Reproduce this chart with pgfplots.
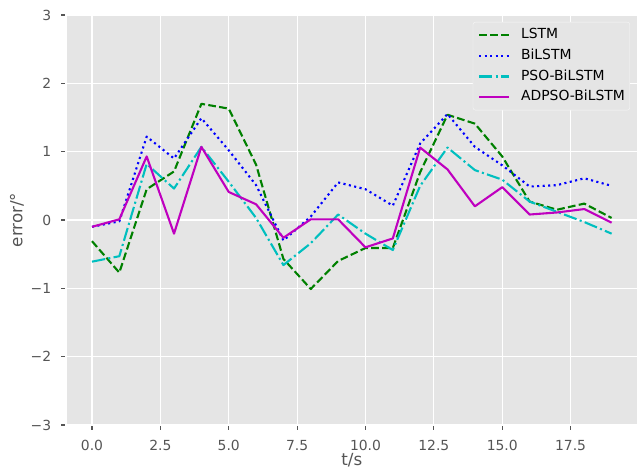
\documentclass[border=0pt]{standalone}
\usepackage{fontspec}
\setmainfont{DejaVu Sans}
\usepackage{pgfplots}
\pgfplotsset{compat=1.18}
\definecolor{bg}{HTML}{E5E5E5}
\definecolor{tickc}{HTML}{555555}
\definecolor{cLSTM}{rgb}{0,0.5,0}
\definecolor{cBi}{rgb}{0,0,1}
\definecolor{cPSO}{rgb}{0,0.75,0.75}
\definecolor{cAD}{rgb}{0.75,0,0.75}
\begin{document}
\begin{tikzpicture}
\begin{axis}[
  name=ax,
  scale only axis,
  width=571.6bp, height=410bp,
  xmin=-0.95, xmax=19.95, ymin=-3, ymax=3,
  axis background/.style={fill=bg},
  axis line style={draw=white, line width=1.1bp},
  grid=major,
  major grid style={white, line width=1.1bp},
  xtick={0,2.5,5,7.5,10,12.5,15,17.5},
  xticklabels={0.0,2.5,5.0,7.5,10.0,12.5,15.0,17.5},
  ytick={-3,-2,-1,0,1,2,3},
  yticklabels={−3,−2,−1,0,1,2,3},
  tick align=outside,
  xtick pos=left, ytick pos=left,
  major tick length=4.9bp,
  tick style={tickc, line width=1.1bp},
  ticklabel style={font=\fontsize{13.9bp}{16bp}\selectfont, text=tickc},
  xticklabel style={anchor=north, inner sep=0pt, yshift=-10.3bp},
  yticklabel style={anchor=east, inner sep=0pt, xshift=-9.8bp},
  xlabel={t/s}, ylabel={error/°},
  every axis x label/.style={at={(axis description cs:0.5,-0.0985)}, anchor=base, inner sep=0pt,
    font=\fontsize{16.7bp}{19bp}\selectfont, text=tickc},
  every axis y label/.style={at={(axis description cs:-0.0857,0.5)}, anchor=center, rotate=90, inner sep=0pt,
    font=\fontsize{16.7bp}{19bp}\selectfont, text=tickc},
  legend style={at={(axis description cs:0.9867,0.983)}, anchor=north east,
    fill=bg, draw=white!65!bg, rounded corners=2.5bp,
    font=\fontsize{13.9bp}{16bp}\selectfont,
    inner xsep=5bp, inner ysep=2.6bp, row sep=0pt, column sep=11bp,
    nodes={inner xsep=0pt, inner ysep=3.6bp, text height=10.5bp, text depth=3bp}},
  legend cell align=left,
  legend image code/.code={\draw[#1] (0bp,0bp) -- (30bp,0bp);},
  every axis plot/.append style={line width=2.1bp, line join=round},
]
\addplot[cLSTM, dash pattern=on 7.7bp off 3.3bp] coordinates {
(0,-0.31) (1,-0.77) (2,0.45) (3,0.71) (4,1.70) (5,1.63) (6,0.81) (7,-0.57) (8,-1.01) (9,-0.60)
(10,-0.41) (11,-0.41) (12,0.70) (13,1.54) (14,1.41) (15,0.93) (16,0.27) (17,0.15) (18,0.24) (19,0.03)};
\addlegendentry{LSTM}
\addplot[cBi, dash pattern=on 2.1bp off 3.4bp] coordinates {
(0,-0.10) (1,-0.02) (2,1.22) (3,0.90) (4,1.49) (5,1.02) (6,0.51) (7,-0.30) (8,0.05) (9,0.55)
(10,0.45) (11,0.21) (12,1.12) (13,1.55) (14,1.07) (15,0.80) (16,0.49) (17,0.51) (18,0.61) (19,0.50)};
\addlegendentry{BiLSTM}
\addplot[cPSO, dash pattern=on 13.3bp off 3.3bp on 2.1bp off 3.3bp] coordinates {
(0,-0.61) (1,-0.53) (2,0.82) (3,0.46) (4,1.07) (5,0.56) (6,0.03) (7,-0.66) (8,-0.34) (9,0.08)
(10,-0.20) (11,-0.44) (12,0.50) (13,1.06) (14,0.73) (15,0.59) (16,0.27) (17,0.12) (18,-0.03) (19,-0.20)};
\addlegendentry{PSO-BiLSTM}
\addplot[cAD] coordinates {
(0,-0.10) (1,0.01) (2,0.93) (3,-0.20) (4,1.07) (5,0.41) (6,0.23) (7,-0.26) (8,0.01) (9,0.01)
(10,-0.40) (11,-0.27) (12,1.06) (13,0.74) (14,0.20) (15,0.48) (16,0.08) (17,0.11) (18,0.16) (19,-0.04)};
\addlegendentry{ADPSO-BiLSTM}
\end{axis}
\pgfresetboundingbox
\path ([xshift=-66bp,yshift=-43bp]ax.south west) rectangle ([xshift=5.4bp,yshift=15bp]ax.north east);
\end{tikzpicture}
\end{document}
